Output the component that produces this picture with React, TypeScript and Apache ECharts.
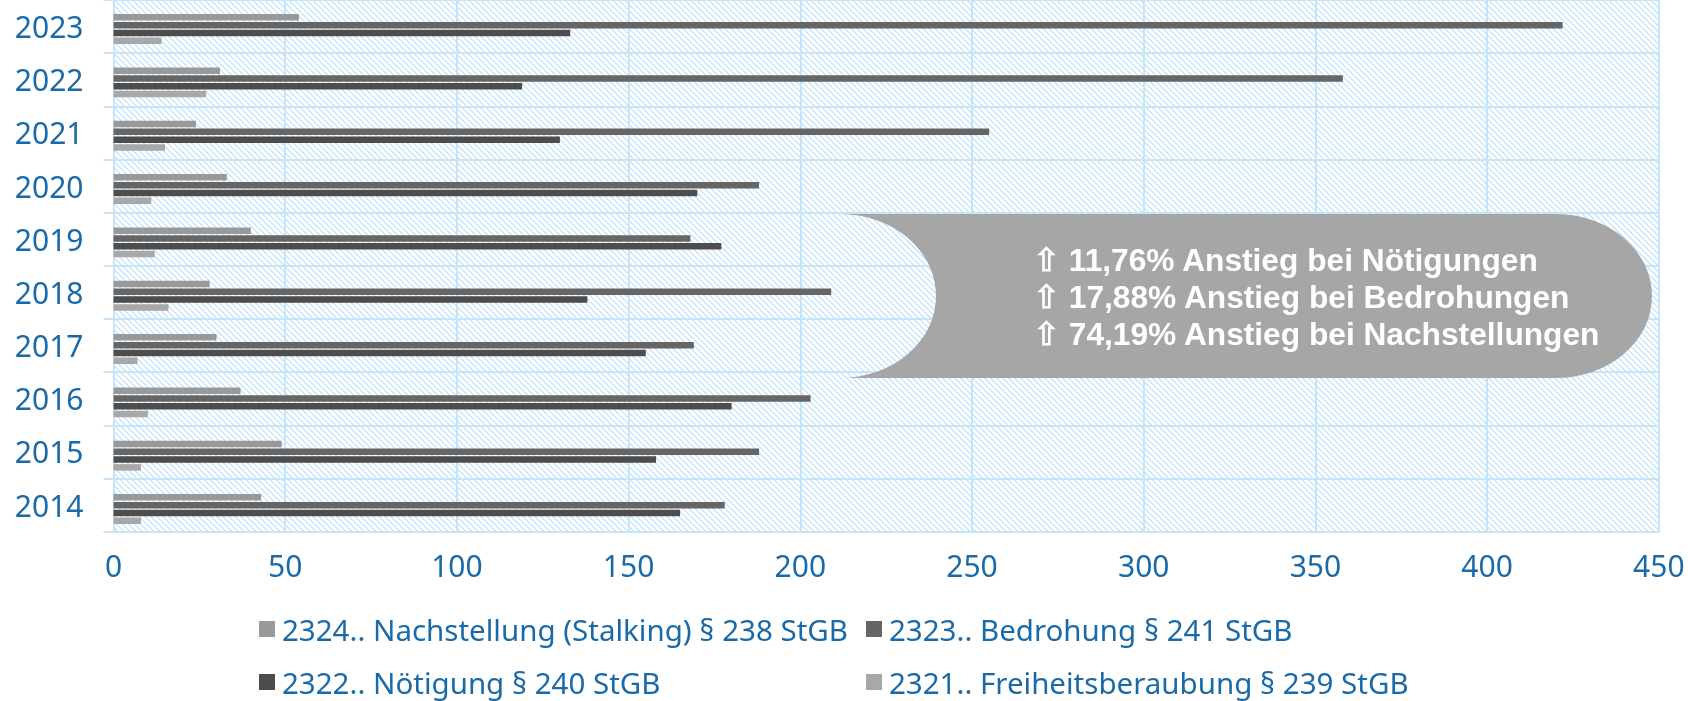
import React, { useEffect, useRef } from 'react';
import * as echarts from 'echarts';

const years = ['2014', '2015', '2016', '2017', '2018', '2019', '2020', '2021', '2022', '2023'];
const seriesNames = [
  '2324.. Nachstellung (Stalking) § 238 StGB',
  '2323.. Bedrohung § 241 StGB',
  '2322.. Nötigung § 240 StGB',
  '2321.. Freiheitsberaubung § 239 StGB',
];
const nachstellung = [43, 49, 37, 30, 28, 40, 33, 24, 31, 54];
const bedrohung = [178, 188, 203, 169, 209, 168, 188, 255, 358, 422];
const noetigung = [165, 158, 180, 155, 138, 177, 170, 130, 119, 133];
const freiheitsberaubung = [8, 8, 10, 7, 16, 12, 11, 15, 27, 14];
const xMin = 0;
const xMax = 450;
const xInterval = 50;
const calloutLines = [
  '⇧ 11,76% Anstieg bei Nötigungen',
  '⇧ 17,88% Anstieg bei Bedrohungen',
  '⇧ 74,19% Anstieg bei Nachstellungen',
];

const seriesColors = ['#999999', '#666666', '#4d4d4d', '#a8a8a8'];
const BLUE = '#1a6aa8';
const GRIDLINE = '#c6e5fa';
const HATCH = '#c9e7fb';
const FONT = '"Noto Sans", sans-serif';
const CALLOUT_FONT = '"Liberation Sans", Arial, sans-serif';

function makeHatch() {
  const c = document.createElement('canvas');
  c.width = 6;
  c.height = 6;
  const ctx = c.getContext('2d')!;
  ctx.fillStyle = '#ffffff';
  ctx.fillRect(0, 0, 6, 6);
  ctx.fillStyle = HATCH;
  for (let i = 0; i < 6; i++) {
    ctx.fillRect(i, i, 1, 1);
    ctx.fillRect((i + 1) % 6, i, 1, 1);
  }
  return c;
}

const SHAPE_W = 812;
const SHAPE_H = 164;
const RX = 96;
const RY = SHAPE_H / 2;
const calloutPath = `M0,0 L${SHAPE_W - RX},0 A${RX},${RY} 0 0 1 ${SHAPE_W},${RY} A${RX},${RY} 0 0 1 ${SHAPE_W - RX},${SHAPE_H} L0,${SHAPE_H} A${RX},${RY} 0 0 0 ${RX},${RY} A${RX},${RY} 0 0 0 0,0 Z`;

export default function App() {
  const ref = useRef<HTMLDivElement>(null);
  useEffect(() => {
    if (!ref.current) return;
    echarts.graphic.registerShape('callout', echarts.graphic.extendPath(calloutPath, {}));
    const chart = echarts.init(ref.current, null, { renderer: 'svg' });
    const pattern = { image: makeHatch(), repeat: 'repeat', imageWidth: 6, imageHeight: 6 };
    const lineStyle = { color: GRIDLINE, width: 2 };
    const legendCommon = {
      orient: 'horizontal',
      itemWidth: 16,
      itemHeight: 16,
      padding: 0,
      icon: 'rect',
      selectedMode: false,
      textStyle: { color: BLUE, fontSize: 29.5, fontFamily: FONT, lineHeight: 16, padding: [0, 0, 0, 2] },
    };
    const data = [nachstellung, bedrohung, noetigung, freiheitsberaubung];
    chart.setOption({
      animation: false,
      grid: [
        { left: 113.5, right: 29.2, top: -1.6, bottom: 169.3, show: true, backgroundColor: pattern, borderWidth: 0 },
        { left: 113.5, right: 29.2, top: 2.4, bottom: 165.3 },
      ],
      xAxis: [
        {
          gridIndex: 0,
          type: 'value',
          min: xMin,
          max: xMax,
          interval: xInterval,
          axisLine: { show: true, lineStyle },
          axisTick: { show: false },
          axisLabel: { color: BLUE, fontSize: 30, fontFamily: FONT, margin: 19 },
          splitLine: { show: true, lineStyle },
        },
        { gridIndex: 1, type: 'value', min: xMin, max: xMax, interval: xInterval, show: false, splitLine: { show: false } },
      ],
      yAxis: [
        {
          gridIndex: 0,
          type: 'category',
          data: years,
          axisLine: { show: true, lineStyle },
          axisTick: { show: true, length: 10, lineStyle },
          axisLabel: { color: BLUE, fontSize: 30, fontFamily: FONT, margin: 30, padding: [0, 0, 7, 0] },
          splitLine: { show: true, lineStyle },
        },
        { gridIndex: 1, type: 'category', data: years, show: false },
      ],
      legend: [
        { ...legendCommon, data: [seriesNames[0]], left: 259, top: 614 },
        { ...legendCommon, data: [seriesNames[1]], left: 866, top: 614 },
        { ...legendCommon, data: [seriesNames[2]], left: 259, top: 667 },
        { ...legendCommon, data: [seriesNames[3]], left: 866, top: 667 },
      ],
      series: seriesNames.map((name, i) => ({
        name,
        type: 'bar',
        xAxisIndex: 1,
        yAxisIndex: 1,
        data: data[i],
        barWidth: 6.5,
        barGap: '20%',
        itemStyle: { color: seriesColors[i] },
      })),
      graphic: [
        {
          type: 'callout',
          x: 840,
          y: 214,
          z: 100,
          style: { fill: '#a6a6a6' },
        },
        {
          type: 'text',
          x: 1033,
          y: 297,
          z: 101,
          style: {
            text: calloutLines.join('\n'),
            fill: '#ffffff',
            font: `bold 31.7px ${CALLOUT_FONT}`,
            lineHeight: 37.2,
            textAlign: 'left',
            textVerticalAlign: 'middle',
          },
        },
      ],
    });
    return () => chart.dispose();
  }, []);
  return <div ref={ref} style={{ position: 'fixed', left: 0, top: 0, width: 1688, height: 701 }} />;
}
